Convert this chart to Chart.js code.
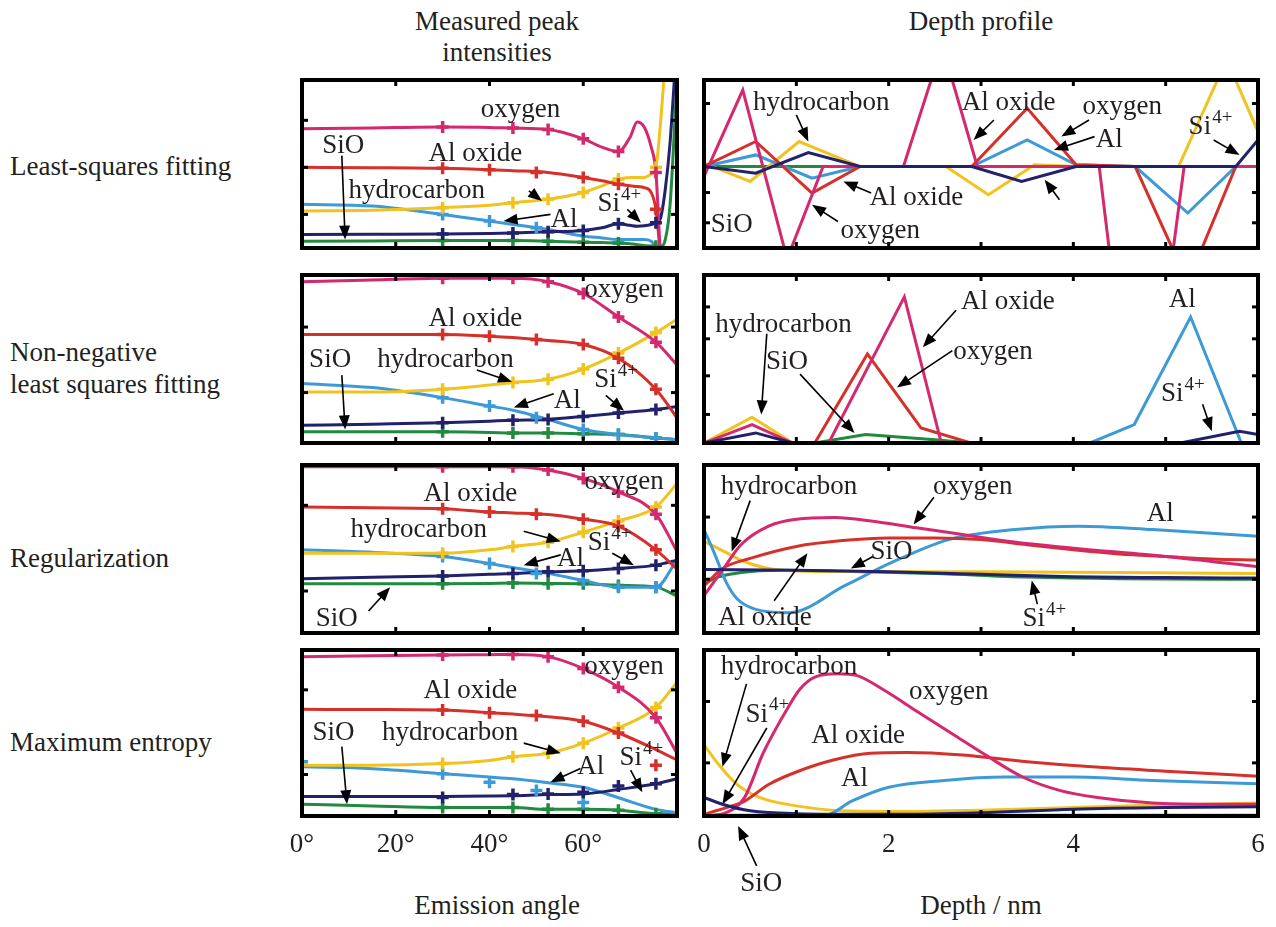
<!DOCTYPE html>
<html>
<head>
<meta charset="utf-8">
<script src="https://cdn.jsdelivr.net/npm/chart.js@4.4.1/dist/chart.umd.min.js"></script>
<style>
  body { margin: 0; background: #fff; width: 1276px; height: 927px; position: relative; overflow: hidden;
         font-family: "Liberation Serif", serif; color: #231f20; }
  .t { position: absolute; font-size: 27px; line-height: 1; white-space: nowrap; }
  .c { transform: translate(-50%, -50%); }
  .l { transform: translateY(-50%); }
  canvas { position: absolute; }
</style>
</head>
<body>
<div class="t c" style="left:497px;top:21px">Measured peak</div>
<div class="t c" style="left:497px;top:52px">intensities</div>
<div class="t c" style="left:981px;top:21px">Depth profile</div>
<div class="t l" style="left:10px;top:166px">Least-squares fitting</div>
<div class="t l" style="left:10px;top:352px">Non-negative</div>
<div class="t l" style="left:10px;top:384px">least squares fitting</div>
<div class="t l" style="left:10px;top:558px">Regularization</div>
<div class="t l" style="left:10px;top:742px">Maximum entropy</div>
<div class="t c" style="left:497px;top:905px">Emission angle</div>
<div class="t c" style="left:981px;top:905px">Depth / nm</div>

<script>
// ---------- measured peak intensities (x = emission angle, deg) ----------
const angleGrid1 = [0, 15, 30, 40, 45, 52.5, 60, 64, 67.5, 70, 71.5, 73, 74.5, 75.5, 76.5, 77.5, 78.5, 80];
const angleGrid = [0, 15, 30, 40, 45, 52.5, 60, 67.5, 75.5, 80];
const markAngles = [30, 45, 52.5, 60, 67.5, 75.5];
const markAnglesAl = [30, 40, 50, 60, 67.5, 75.5];

// least-squares
const lsOxygen   = [71, 71.5, 72, 71.8, 71.4, 70.6, 65, 60, 57.4, 66, 75, 72, 60, 45, -5, -30, -30, -30];
const lsAlOxide  = [48, 47.8, 47.4, 46.6, 46, 45, 42, 40, 38, 37, 36.6, 36, 33, 23, -5, -30, -30, -30];
const lsHydro    = [22, 22.5, 24, 25.5, 27, 29, 33, 37, 41, 42, 42, 42, 44, 48, 75, 110, 130, 130];
const lsAl       = [26, 25, 20, 16, 14, 11, 7, 6, 5, 5, 5, 5, 4, 1, 0, 0, 0, 0];
const lsSi4      = [8, 8.2, 8.4, 8.7, 9, 9.6, 10.4, 12, 14.4, 13.5, 13, 13.2, 14, 15, 18, 35, 62, 125];
const lsSiO      = [4, 4.2, 4.4, 4.4, 4.4, 4, 3.4, 3.2, 3, 2.5, 2, 1.5, 1, 1, 1, 5, 25, 100];
const lsMkOxygen  = [72, 71.4, 70.6, 65, 57.4, 45];
const lsMkAlOxide = [47.4, 46.6, 45, 42, 38, 23];
const lsMkHydro   = [24, 27, 29, 33, 41, 48];
const lsMkAlAngles = [30, 40, 50];
const lsMkAl      = [20, 16, 12];
const lsMkSi4     = [8.4, 9, 9.6, 10.4, 14.4, 15];
const lsMkSiO     = [4.4, 4.4, 4, 3.4, 3, 1];

// non-negative least squares
const nnOxygen  = [96, 97, 98, 98, 98, 96, 89, 75, 60, 46.5];
const nnAlOxide = [64.6, 64.6, 64.6, 63.6, 62.8, 61, 58.6, 50.5, 32, 15];
const nnHydro   = [30.3, 30.3, 32, 34.5, 36, 38, 44, 53.5, 65.7, 73.7];
const nnAl      = [35.4, 33, 27, 22, 19.5, 14, 8, 5, 3, 2];
const nnSi4     = [10.5, 11.2, 12, 13, 13.5, 14, 15.8, 17.8, 20, 21.8];
const nnSiO     = [6.7, 6.7, 6.7, 6.3, 6, 6, 5.5, 5, 3, 2];
const nnMkOxygen  = [98, 98, 96, 89, 75, 60];
const nnMkAlOxide = [64.6, 63.6, 61.6, 58.6, 50.5, 32];
const nnMkHydro   = [32, 36, 38, 44, 53.5, 65.7];
const nnMkAl      = [27, 22, 15, 8, 5, 3];
const nnMkSi4     = [12, 13.5, 14, 15.8, 17.8, 20];
const nnMkSiO     = [6.7, 6, 6, 5.5, 5, 3];

// regularization
const regOxygen  = [99, 99, 99, 99, 99, 97, 92, 84, 70.7, 48.5];
const regAlOxide = [75, 74.5, 74, 72, 71.5, 70.5, 67.7, 63.6, 49.5, 38];
const regHydro   = [47.5, 47.5, 47.5, 49.5, 51.5, 54, 60, 66.7, 75, 89];
const regAl      = [49.5, 48, 45.5, 41.4, 39, 35.5, 31.3, 27.3, 27.3, 43.4];
const regSi4     = [32.3, 33.2, 34, 35, 35.4, 36.4, 37, 38.4, 40.4, 43.4];
const regSiO     = [29.3, 29.3, 29.3, 29.5, 29.7, 29.5, 29.3, 28.3, 27.3, 22];
const regMkOxygen  = [99, 99, 97, 92, 84, 70.7];
const regMkAlOxide = [74, 72, 70.7, 67.7, 63.6, 49.5];
const regMkHydro   = [47.5, 51.5, 54, 60, 66.7, 75];
const regMkAl      = [45.5, 41.4, 35.4, 31.3, 27.3, 27.3];
const regMkSi4     = [34, 35.4, 36.4, 37, 38.4, 40.4];
const regMkSiO     = [29.3, 29.7, 29.3, 29.3, 28.3, 27.3];

// maximum entropy
const meOxygen  = [96, 96.5, 97, 97.2, 97.3, 96, 88.8, 77.6, 59.2, 37.8];
const meAlOxide = [64.3, 64.1, 63.9, 62.2, 61.4, 59.8, 57.1, 50, 40, 33.7];
const meHydro   = [30.6, 30.6, 31.6, 33.5, 35.7, 37.8, 43.9, 53, 65.3, 80.6];
const meAl      = [29.6, 28.5, 25.5, 23.5, 22.4, 20, 17.3, 11, 4, 2];
const meSi4     = [11.8, 11.8, 11.8, 12, 12.2, 12.9, 13.3, 16, 19.4, 22.4];
const meSiO     = [7.1, 6, 5.1, 5.1, 5.1, 4, 4, 3.5, 1.4, 1.4];
const meMkOxygen  = [97, 97.3, 96, 88.8, 77.6, 59.2];
const meMkAlOxide = [63.9, 62.2, 60.6, 57.1, 50, 30.6];
const meMkHydro   = [31.6, 35.7, 37.8, 43.9, 53, 65.3];
const meMkAlAngles = [0, 30, 40, 50, 60];
const meMkAl      = [32.7, 25.5, 20.4, 15.3, 8.2];
const meMkSi4     = [11.2, 12.9, 13.3, 14.3, 18, 19.4];
const meMkSiO     = [5.1, 5.1, 4, 4, 3.5, 1.4];

// ---------- depth profiles (x = depth, nm) ----------
// least-squares (zero line in the middle of the frame)
const lsdOxygenX  = [0, 0.42, 0.9, 1.29, 2.16, 2.58, 2.96, 4.28, 4.72, 5.2, 6];
const lsdOxygen   = [-5.9, 45.5, -55, 0, 0, 72, 0, 0, -200, 0, 0];
const lsdAlOxideX = [0, 0.56, 1.17, 1.69, 2.9, 3.5, 4.03, 4.67, 5.24, 5.76, 6];
const lsdAlOxide  = [0, 14.9, -15.8, 0, 0, 34.7, 1, 0, -69, 0, 0];
const lsdHydroX   = [0, 0.5, 1.03, 1.69, 2.62, 3.08, 3.58, 4.03, 5.14, 5.66, 6];
const lsdHydro    = [2, -8.9, 14.9, 0, 0, -16.8, 1, 0, 0, 63.7, 20.8];
const lsdAlX      = [0, 0.56, 1.17, 1.69, 2.9, 3.5, 4.03, 4.67, 5.24, 5.76, 6];
const lsdAl       = [0, 6.9, -6.9, 0, 0, 15.8, 1, 0, -27.7, 0, 0];
const lsdSi4X     = [0, 0.56, 1.13, 1.69, 2.9, 3.44, 4.03, 5.76, 6];
const lsdSi4      = [0, -4, 8.3, 0, 0, -8.9, 0, 0, 15.8];
const lsdSiOX     = [0, 6];
const lsdSiO      = [0, 0];

// non-negative least squares
const nndHydroX   = [0, 0.52, 0.96, 6];
const nndHydro    = [0, 15.4, 0, 0];
const nndOxygenX  = [0, 0.52, 0.96, 1.35, 2.17, 2.57, 6];
const nndOxygen   = [0, 11, 0, 0, 87, 0, 0];
const nndAlOxideX = [0, 1.2, 1.77, 2.35, 2.89, 6];
const nndAlOxide  = [0, 0, 53, 9, 0, 0];
const nndSi4X     = [0, 0.56, 0.96, 5.16, 5.8, 6];
const nndSi4      = [0, 6, 0, 0, 7, 5];
const nndSiOX     = [0, 1.2, 1.75, 2.5, 2.89, 6];
const nndSiO      = [0, 0, 5, 2, 0, 0];
const nndAlX      = [0, 4.18, 4.66, 5.27, 5.82, 6];
const nndAl       = [0, 0, 11, 75, 0, 0];

// regularization
const regdAlX      = [0, 0.12, 0.24, 0.36, 0.56, 0.92, 1.53, 2.01, 2.65, 3.37, 4.06, 4.86, 6];
const regdAl       = [61.6, 46.5, 30.3, 20.2, 14.1, 12.1, 28.3, 41.4, 55.6, 61.6, 63.6, 61.6, 57.6];
const regdOxygenX  = [0, 0.2, 0.4, 0.7, 1.0, 1.41, 1.81, 2.3, 2.8, 3.31, 4, 5, 6];
const regdOxygen   = [22.2, 37.4, 52.5, 63.6, 67.7, 68.7, 66.7, 62.6, 58.6, 54.5, 50.5, 45.5, 39.4];
const regdAlOxideX = [0, 0.2, 0.5, 1.0, 1.5, 2, 2.5, 3, 3.5, 4, 4.5, 5, 5.5, 6];
const regdAlOxide  = [28, 38.4, 44.4, 51.5, 55, 56.6, 56.6, 55.6, 52.5, 49.5, 47, 45.5, 44, 43.4];
const regdHydroX   = [0, 0.2, 0.44, 0.84, 1.5, 3, 4.5, 6];
const regdHydro    = [54.5, 49, 42.4, 37.4, 36.6, 36.4, 36, 35.4];
const regdSi4X     = [0, 1, 2, 3, 4, 5, 6];
const regdSi4      = [37.8, 37.4, 36.4, 35, 33.5, 33, 32.7];
const regdSiOX     = [0, 0.15, 0.4, 0.8, 1.5, 2.5, 3.5, 4.5, 6];
const regdSiO      = [29.3, 33.3, 36, 37.4, 36.8, 35.4, 33.3, 32.3, 32];

// maximum entropy
const medOxygenX  = [0, 0.24, 0.44, 0.64, 0.92, 1.04, 1.2, 1.45, 1.65, 1.93, 2.33, 2.73, 3.05, 3.45, 3.86, 4.26, 4.86, 5.46, 6];
const medOxygen   = [0, 2, 11.2, 37.8, 66.3, 76.5, 83.7, 85.7, 84.7, 76.5, 62.2, 48, 36.7, 23.5, 15.3, 11.2, 7.8, 7.1, 7.1];
const medAlOxideX = [0, 0.24, 0.44, 0.7, 1.0, 1.4, 1.8, 2.2, 2.8, 3.5, 4.2, 5, 6];
const medAlOxide  = [1, 5, 9, 19, 26.5, 33.7, 37.8, 38.2, 36.7, 32.7, 29.6, 27, 24];
const medHydroX   = [0, 0.15, 0.35, 0.6, 1, 1.5, 2, 3, 4, 5, 6];
const medHydro    = [42.9, 31.6, 19.4, 11.2, 6.1, 3.1, 2.7, 3.5, 5.1, 6.7, 7.8];
const medSi4X     = [0, 0.2, 0.5, 1, 2, 3, 4, 5, 6];
const medSi4      = [11.2, 7.1, 3.1, 1.4, 1, 2, 4.1, 5.1, 5.5];
const medAlX      = [0, 1.29, 1.61, 2.0, 2.6, 3.25, 4.0, 4.86, 6];
const medAl       = [0, 0, 9.2, 17.3, 21.4, 23.5, 23.5, 21.4, 19.4];
const medSiOX     = [0, 6];
const medSiO      = [0.5, 0.5];

// ---------- drawing ----------
const COLORS = { oxygen: '#d4286f', aloxide: '#d6302b', hydro: '#f1c31e', al: '#3d9ad6', si4: '#22216b', sio: '#208a3e' };
const FONT = '"Liberation Serif", serif';
const PAD = 30;
const BELOW = 100;

function pts(xs, ys) { return xs.map((x, i) => ({ x: x, y: ys[i] })); }

function line(xs, ys, color, smooth) {
  return { data: pts(xs, ys), borderColor: color, backgroundColor: color, borderWidth: 3,
           pointRadius: 0, fill: false, tension: 0,
           cubicInterpolationMode: smooth ? 'monotone' : 'default' };
}
function marks(xs, ys, color) {
  return { data: pts(xs, ys), showLine: false, borderColor: color, backgroundColor: color,
           pointStyle: 'cross', pointRadius: 6, pointBorderWidth: 3.5, pointHoverRadius: 6 };
}

// listed bottom-to-top; reversed because Chart.js paints dataset 0 last (on top)
function measuredSets(grid, o, ao, h, al, si4, sio, mk) {
  return [
    line(grid, sio, COLORS.sio, true), line(grid, al, COLORS.al, true), line(grid, si4, COLORS.si4, true),
    line(grid, h, COLORS.hydro, true), line(grid, ao, COLORS.aloxide, true), line(grid, o, COLORS.oxygen, true),
    marks(markAngles, mk.sio, COLORS.sio), marks(mk.alX || markAnglesAl, mk.al, COLORS.al),
    marks(markAngles, mk.si4, COLORS.si4), marks(markAngles, mk.h, COLORS.hydro),
    marks(markAnglesAl, mk.ao, COLORS.aloxide), marks(markAngles, mk.o, COLORS.oxygen)
  ].reverse();
}

function depthSets(d, smooth) {
  return [
    line(d.sioX, d.sio, COLORS.sio, smooth), line(d.hX, d.h, COLORS.hydro, smooth),
    line(d.alX, d.al, COLORS.al, smooth), line(d.aoX, d.ao, COLORS.aloxide, smooth),
    line(d.oX, d.o, COLORS.oxygen, smooth), line(d.si4X, d.si4, COLORS.si4, smooth)
  ].reverse();
}

const panels = [
  { id: 'L1', x: 302, y: 80, w: 375, h: 168, angle: true, yMin: 0, yMax: 100, yTicks: [0.2, 0.48, 0.76],
    sets: measuredSets(angleGrid1, lsOxygen, lsAlOxide, lsHydro, lsAl, lsSi4, lsSiO,
      { o: lsMkOxygen, ao: lsMkAlOxide, h: lsMkHydro, al: lsMkAl, alX: lsMkAlAngles, si4: lsMkSi4, sio: lsMkSiO }),
    labels: [['oxygen', 46.6, 82], ['Al oxide', 37, 56], ['hydrocarbon', 24.5, 34], ['Al', 55.9, 17],
             ['SiO', 8.8, 61], ['Si4+', 67.6, 26]],
    arrows: [[48.4, 34, 51.2, 28], [53, 20, 43, 16], [8.5, 55, 9.2, 5], [69.4, 23, 72.3, 15]] },
  { id: 'L2', x: 302, y: 275, w: 375, h: 168, angle: true, yMin: 0, yMax: 100, yTicks: [0.3, 0.69],
    sets: measuredSets(angleGrid, nnOxygen, nnAlOxide, nnHydro, nnAl, nnSi4, nnSiO,
      { o: nnMkOxygen, ao: nnMkAlOxide, h: nnMkHydro, al: nnMkAl, si4: nnMkSi4, sio: nnMkSiO }),
    labels: [['oxygen', 68.7, 90.9], ['Al oxide', 37, 73.7], ['hydrocarbon', 30.6, 49.5], ['SiO', 6, 49.5],
             ['Al', 56.6, 25.3], ['Si4+', 66.9, 37.4]],
    arrows: [[37.3, 43.4, 44.8, 36.4], [8.5, 40.4, 9.2, 8.1], [53.7, 29.3, 45.2, 21.2], [64.8, 28.3, 68.7, 19.2]] },
  { id: 'L3', x: 302, y: 465, w: 375, h: 168, angle: true, yMin: 0, yMax: 100, yTicks: [0.25, 0.76],
    sets: measuredSets(angleGrid, regOxygen, regAlOxide, regHydro, regAl, regSi4, regSiO,
      { o: regMkOxygen, ao: regMkAlOxide, h: regMkHydro, al: regMkAl, si4: regMkSi4, sio: regMkSiO }),
    labels: [['oxygen', 68.7, 89.9], ['Al oxide', 35.9, 82.8], ['hydrocarbon', 24.9, 61.6], ['Al', 57.3, 44.4],
             ['Si4+', 65.5, 53.5], ['SiO', 7.4, 8.1]],
    arrows: [[47.3, 60.6, 55.2, 54.5], [55.2, 46.5, 47.3, 40.4], [66.2, 47.5, 70.8, 40.4], [14.2, 13.1, 18.8, 27.3]] },
  { id: 'L4', x: 302, y: 650, w: 375, h: 166, angle: true, bottom: true, yMin: 0, yMax: 100, yTicks: [0.25, 0.76],
    sets: measuredSets(angleGrid, meOxygen, meAlOxide, meHydro, meAl, meSi4, meSiO,
      { o: meMkOxygen, ao: meMkAlOxide, h: meMkHydro, al: meMkAl, alX: meMkAlAngles, si4: meMkSi4, sio: meMkSiO }),
    labels: [['oxygen', 68.7, 89.8], ['Al oxide', 35.9, 75.5], ['hydrocarbon', 31.6, 50], ['SiO', 6.7, 50],
             ['Al', 61.6, 29.6], ['Si4+', 72.3, 34.7]],
    arrows: [[47.3, 43.9, 55.2, 37.8], [8.5, 41.8, 9.6, 7.1], [59.4, 28.6, 53, 20.4], [70.1, 27.6, 72.6, 14.3]] },

  { id: 'R1', x: 704, y: 80, w: 554, h: 168, angle: false, yMin: -48.5, yMax: 51.5, yTicks: [0.15, 0.33, 0.86],
    sets: depthSets({ oX: lsdOxygenX, o: lsdOxygen, aoX: lsdAlOxideX, ao: lsdAlOxide, hX: lsdHydroX, h: lsdHydro,
                      alX: lsdAlX, al: lsdAl, si4X: lsdSi4X, si4: lsdSi4, sioX: lsdSiOX, sio: lsdSiO }, false),
    labels: [['hydrocarbon', 1.27, 37.6], ['Al oxide', 3.3, 37.6], ['oxygen', 4.53, 35.6], ['Al', 4.39, 15.8],
             ['Al oxide', 2.3, -18.8], ['oxygen', 1.91, -38.6], ['Si4+', 5.48, 23.8], ['SiO', 0.3, -34.7]],
    arrows: [[1.0, 30.7, 1.13, 14.9], [3.14, 27.7, 2.92, 15.8], [4.17, 27.7, 3.87, 17.8], [4.23, 17.8, 3.79, 9.9],
             [3.85, -19.8, 3.69, -7.9], [1.81, -15.8, 1.51, -8.9], [1.45, -32.7, 1.17, -22.8], [5.52, 15.8, 5.8, 6.9]] },
  { id: 'R2', x: 704, y: 275, w: 554, h: 168, angle: false, yMin: 0, yMax: 100, yTicks: [0.17, 0.4, 0.62, 0.81],
    sets: depthSets({ oX: nndOxygenX, o: nndOxygen, aoX: nndAlOxideX, ao: nndAlOxide, hX: nndHydroX, h: nndHydro,
                      alX: nndAlX, al: nndAl, si4X: nndSi4X, si4: nndSi4, sioX: nndSiOX, sio: nndSiO }, false),
    labels: [['Al oxide', 3.29, 84], ['oxygen', 3.13, 54], ['hydrocarbon', 0.86, 70], ['SiO', 0.9, 48],
             ['Al', 5.18, 85], ['Si4+', 5.18, 29]],
    arrows: [[2.73, 79, 2.37, 57], [2.69, 55, 2.09, 33], [0.68, 65, 0.62, 17], [1.04, 41, 1.63, 6], [5.4, 23, 5.5, 7]] },
  { id: 'R3', x: 704, y: 465, w: 554, h: 168, angle: false, yMin: 0, yMax: 100, yTicks: [0.32, 0.69],
    sets: depthSets({ oX: regdOxygenX, o: regdOxygen, aoX: regdAlOxideX, ao: regdAlOxide, hX: regdHydroX, h: regdHydro,
                      alX: regdAlX, al: regdAl, si4X: regdSi4X, si4: regdSi4, sioX: regdSiOX, sio: regdSiO }, true),
    labels: [['hydrocarbon', 0.92, 86.9], ['oxygen', 2.91, 86.9], ['Al', 4.94, 70.7], ['SiO', 2.03, 48.5],
             ['Al oxide', 0.66, 9.1], ['Si4+', 3.68, 8.1]],
    arrows: [[0.5, 78.8, 0.3, 48.5], [2.49, 80.8, 2.27, 64.6], [1.83, 45.5, 1.59, 38.4], [0.76, 19.2, 1.12, 47.5],
             [3.61, 17.2, 3.55, 31.3]] },
  { id: 'R4', x: 704, y: 650, w: 554, h: 166, angle: false, bottom: true, yMin: 0, yMax: 100, yTicks: [0.32, 0.69],
    sets: depthSets({ oX: medOxygenX, o: medOxygen, aoX: medAlOxideX, ao: medAlOxide, hX: medHydroX, h: medHydro,
                      alX: medAlX, al: medAl, si4X: medSi4X, si4: medSi4, sioX: medSiOX, sio: medSiO }, true),
    labels: [['hydrocarbon', 0.92, 89.8], ['Si4+', 0.68, 61.2], ['oxygen', 2.65, 74.5], ['Al oxide', 1.67, 48],
             ['Al', 1.63, 22.4], ['SiO', 0.62, -41]],
    arrows: [[0.46, 79.6, 0.2, 29.6], [0.68, 53, 0.2, 7.1], [0.57, -30, 0.37, -6]] }
];

const notesById = {};
panels.forEach(p => { notesById[p.id] = p; });

function drawArrow(ctx, x1, y1, x2, y2) {
  const a = Math.atan2(y2 - y1, x2 - x1), L = 14, W = 5.5;
  ctx.beginPath();
  ctx.moveTo(x1, y1);
  ctx.lineTo(x2 - Math.cos(a) * L * 0.8, y2 - Math.sin(a) * L * 0.8);
  ctx.stroke();
  ctx.beginPath();
  ctx.moveTo(x2, y2);
  ctx.lineTo(x2 - L * Math.cos(a) + W * Math.sin(a), y2 - L * Math.sin(a) - W * Math.cos(a));
  ctx.lineTo(x2 - L * Math.cos(a) - W * Math.sin(a), y2 - L * Math.sin(a) + W * Math.cos(a));
  ctx.closePath();
  ctx.fill();
}

function drawLabel(ctx, text, px, py) {
  ctx.textBaseline = 'middle';
  if (text === 'Si4+') {
    ctx.font = '27px ' + FONT;
    const w1 = ctx.measureText('Si').width;
    ctx.font = '19px ' + FONT;
    const w2 = ctx.measureText('4+').width;
    const x0 = px - (w1 + w2) / 2;
    ctx.textAlign = 'left';
    ctx.font = '27px ' + FONT;
    ctx.fillText('Si', x0, py);
    ctx.font = '19px ' + FONT;
    ctx.fillText('4+', x0 + w1 + 1, py - 9);
  } else {
    ctx.font = '27px ' + FONT;
    ctx.textAlign = 'center';
    ctx.fillText(text, px, py);
  }
}

const framePlugin = {
  id: 'frame',
  afterDatasetsDraw(chart) {
    const p = notesById[chart.canvas.id];
    const { ctx, chartArea: a, scales: { x } } = chart;
    ctx.save();
    ctx.strokeStyle = '#000';
    ctx.lineWidth = 3;
    const xt = p.angle ? [20, 40, 60] : [1, 2, 3, 4, 5];
    xt.forEach(v => {
      const px = x.getPixelForValue(v);
      ctx.beginPath(); ctx.moveTo(px, a.top); ctx.lineTo(px, a.top + 6); ctx.stroke();
      ctx.beginPath(); ctx.moveTo(px, a.bottom); ctx.lineTo(px, a.bottom - 6); ctx.stroke();
    });
    p.yTicks.forEach(f => {
      const py = a.bottom - f * (a.bottom - a.top);
      ctx.beginPath(); ctx.moveTo(a.left, py); ctx.lineTo(a.left + 6, py); ctx.stroke();
      ctx.beginPath(); ctx.moveTo(a.right, py); ctx.lineTo(a.right - 6, py); ctx.stroke();
    });
    ctx.lineWidth = 4;
    ctx.strokeRect(a.left, a.top, a.right - a.left, a.bottom - a.top);
    ctx.restore();
  },
  afterDraw(chart) {
    const p = notesById[chart.canvas.id];
    const { ctx, scales: { x, y } } = chart;
    ctx.save();
    ctx.strokeStyle = '#000';
    ctx.lineWidth = 1.6;
    p.arrows.forEach(r => {
      ctx.fillStyle = '#000';
      drawArrow(ctx, x.getPixelForValue(r[0]), y.getPixelForValue(r[1]),
                x.getPixelForValue(r[2]), y.getPixelForValue(r[3]));
    });
    ctx.fillStyle = '#231f20';
    p.labels.forEach(l => drawLabel(ctx, l[0], x.getPixelForValue(l[1]), y.getPixelForValue(l[2])));
    ctx.restore();
  }
};

panels.forEach(p => {
  const cv = document.createElement('canvas');
  cv.id = p.id;
  const below = p.bottom ? BELOW : PAD;
  cv.width = p.w + 2 * PAD;
  cv.height = p.h + PAD + below;
  cv.style.left = (p.x - PAD) + 'px';
  cv.style.top = (p.y - PAD) + 'px';
  document.body.appendChild(cv);

  const axisH = 50;
  new Chart(cv.getContext('2d'), {
    type: 'line',
    data: { datasets: p.sets },
    options: {
      responsive: false,
      animation: false,
      devicePixelRatio: 1,
      layout: { padding: { left: PAD, right: PAD, top: PAD, bottom: p.bottom ? below - axisH : PAD } },
      plugins: { legend: { display: false }, tooltip: { enabled: false } },
      scales: {
        x: {
          type: 'linear',
          min: 0,
          max: p.angle ? 80 : 6,
          display: !!p.bottom,
          grid: { display: false, drawTicks: false },
          border: { display: false },
          ticks: {
            stepSize: p.angle ? 20 : 2,
            autoSkip: false,
            maxRotation: 0,
            padding: 13,
            color: '#231f20',
            font: { family: FONT, size: 27 },
            callback: v => p.angle ? (v >= 80 ? '' : v + '°') : String(v)
          },
          afterFit: s => { if (p.bottom) s.height = axisH; }
        },
        y: { type: 'linear', min: p.yMin, max: p.yMax, display: false }
      }
    },
    plugins: [framePlugin]
  });
});
</script>
</body>
</html>
